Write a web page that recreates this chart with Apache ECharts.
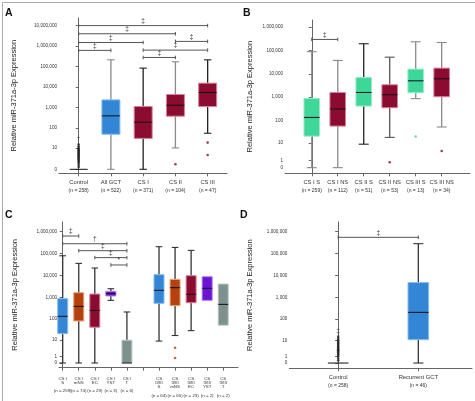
<!DOCTYPE html>
<html><head><meta charset="utf-8">
<script src="https://cdn.jsdelivr.net/npm/echarts@6/dist/echarts.min.js"></script>
<style>html,body{margin:0;padding:0;background:#fff}#c{width:475px;height:401px}</style>
</head><body><div id="c"></div><script>
// ---------- DATA ----------
// box rows: [lower whisker, Q1, median, Q3, upper whisker]
const catsA = ['Control', 'All GCT', 'CS I', 'CS II', 'CS III'];
const nA = [258, 522, 371, 104, 47];
const boxA = [[0,0,0,0,0],[0,50,400,2400,215000],[0,31,195,1140,85000],[10,385,1320,4400,172000],[56,1140,5500,15700,215000]];
const outA_control = [0.3,0.6,1,1.3,1.6,2,2.4,2.8,3.3,3.8,4.4,5,5.8,6.6,7.5,8.5,10,12,15];
const outA = [[3,[0.75]],[4,[19,4]]];
const brkA = [[0,4,10000000],[0,3,4000000],[0,2,1500000],[0,1,620000],[3,4,1700000],[2,4,640000],[2,3,280000]];
const brkSymA = ['‡','‡','‡','‡','‡','‡','‡'];

const catsB = ['CS I S','CS I NS','CS II S','CS II NS','CS III S','CS III NS'];
const nB = [259, 112, 51, 53, 13, 34];
const boxB = [[0,21,137,890,87000],[0,58,315,1600,37000],[9,420,1600,6950,190000],[18.5,355,1280,3400,51000],[870,1550,5000,15800,230000],[53,1050,6100,17400,215000]];
const outB = [[3,[0.69]],[4,[20]],[5,[4.1]]];
const brkB = [[0,1,290000]];
const brkSymB = ['‡'];

const catsC = [['CS I','S'],['CS I','mNS'],['CS I','EC'],['CS I','YST'],['CS I','T'],null,['CS','II/III','S'],['CS','II/III','mNS'],['CS','II/III','EC'],['CS','II/III','YST'],['CS','II/III','T']];
const nC = [259, 74, 29, 3, 6, null, 64, 60, 23, 2, 2];
const boxC = [[0,21,134,870,79000],[0,82,385,1620,35500],[0,42,252,1410,21800],[725,1150,1470,1880,2470],[0,0,0,10,213],null,[9,530,2090,10800,205000],[17,415,2750,6600,190000],[29,565,1370,9700,139000],[725,725,2570,8700,8700],[52,52,475,4050,4050]];
const outC = [[7,[4,0.7]]];
const brkC = [[0,1,630000],[0,4,280000],[1,4,135000],[2,4,65000],[3,4,30000]];
const brkSymC = ['‡','†','‡','‡','*'];

const catsD = ['Control','Recurrent GCT'];
const nD = [258, 46];
const boxD = [[0,0,0,0,0],[0,10.7,205,4700,282000]];
const outD_control = [0.3,0.6,1,1.3,1.6,2,2.4,2.8,3.3,3.8,4.4,5,5.8,6.6,7.5,8.5,10,12,15];
const brkD = [[0,1,550000]];
const brkSymD = ['‡'];

const ticksA = [0,10,100,1000,10000,100000,1000000,10000000];
const ticksBCD = [0,1,10,100,1000,10000,100000,1000000];

// ---------- STYLE ----------
const BLUE=['#3385d6','#86bbec'], RED=['#8c0b30','#d9819b'], GREEN=['#3ed699','#98ecc8'],
      ORANGE=['#b5420e','#eba17a'], PURPLE=['#6b13d3','#ad7ff0'], GRAY=['#7d918f','#bfcac8'];
const FONT = "'Liberation Sans', Arial, sans-serif";
const L = v => Math.log10(v + 1);

const panels = [
  {cats: catsA, box: boxA, colors:[RED,BLUE,RED,RED,RED], whisk:['#333','#8a8a8a','#222','#8a8a8a','#222'],
   grid:{left:59, top:18, width:168, height:155.3}, x:[-0.61,4.6], y:[-0.195,7.37], ticks: ticksA,
   hw:9, cw:3.7, brk: brkA, sym: brkSymA, nameGap: 41, lm:5},
  {cats: catsB, box: boxB, colors:[GREEN,RED,GREEN,RED,GREEN,RED], whisk:['#8a8a8a','#8a8a8a','#222','#555','#8a8a8a','#8a8a8a'],
   grid:{left:285, top:20, width:185, height:153.3}, x:[-1.03,6.09], y:[-0.24,6.29], ticks: ticksBCD,
   hw:7.8, cw:5, brk: brkB, sym: brkSymB, nameGap: 31, lm:5},
  {cats: catsC, box: boxC, colors:[BLUE,ORANGE,RED,PURPLE,GRAY,null,BLUE,ORANGE,RED,PURPLE,GRAY], whisk:Array(11).fill('#333'),
   grid:{left:59, top:222, width:179, height:145.7}, x:[-0.23,10.92], y:[-0.215,6.44], ticks: ticksBCD,
   hw:5, cw:3.3, brk: brkC, sym: brkSymC, nameGap: 40, lm:8.5, split:true},
  {cats: catsD, box: boxD, colors:[RED,BLUE], whisk:['#333','#333'],
   grid:{left:289.3, top:222, width:182.7, height:146.3}, x:[-0.61,1.67], y:[-0.24,6.44], ticks: ticksBCD,
   hw:10.3, cw:5, brk: brkD, sym: brkSymD, nameGap: 35, lm:5}
];

function xLabel(pi, i) {
  if (pi === 0) return `{a|${catsA[i]}}\n{b|(n = ${nA[i]})}`;
  if (pi === 1) return `{a|${catsB[i]}}\n{b|(n = ${nB[i]})}`;
  if (pi === 2) { const c = catsC[i]; if (!c) return ''; return c.map(s => `{c|${s}}`).join('\n') + `\n{c| }\n{c|(n = ${nC[i]})}`; }
  return `{a|${catsD[i]}}\n{b|(n = ${nD[i]})}`;
}
const RICH = {a:{fontSize:5.8, lineHeight:8.5, color:'#333', fontFamily:FONT},
              b:{fontSize:5, lineHeight:8.5, color:'#333', fontFamily:FONT},
              c:{fontSize:4.4, lineHeight:4.3, color:'#333', fontFamily:FONT}};

const grids=[], xAxes=[], yAxes=[], series=[], extraX=[];
panels.forEach((p, pi) => {
  grids.push(p.grid);
  const idx = p.cats.map((_, i) => i).filter(i => p.cats[i]);
  const allIdx = p.cats.map((_, i) => i);
  const labIdx = p.split ? idx.filter(i => i % 2 === 0) : idx;
  xAxes.push({type:'value', gridIndex:pi, position:'bottom', min:p.x[0], max:p.x[1],
    axisLine:{show:true, onZero:false, lineStyle:{color:'#666', width:1}},
    axisTick:{show:true, customValues: allIdx, length:3, lineStyle:{color:'#666'}},
    splitLine:{show:false},
    axisLabel:{customValues: labIdx, margin: p.lm, hideOverlap:false, showMinLabel:true, showMaxLabel:true,
      formatter: v => xLabel(pi, Math.round(v)), rich: RICH}
  });
  if (p.split) {
    extraX.push({type:'value', gridIndex:pi, position:'bottom', offset:0, min:p.x[0], max:p.x[1],
      axisLine:{show:false, onZero:false}, axisTick:{show:false}, splitLine:{show:false},
      axisLabel:{customValues: idx.filter(i => i % 2 === 1), margin: p.lm, hideOverlap:false, showMinLabel:true, showMaxLabel:true,
        formatter: v => xLabel(pi, Math.round(v)), rich: RICH}
    });
  }
  const tv = p.ticks.map(L);
  yAxes.push({type:'value', gridIndex:pi, min:p.y[0], max:p.y[1],
    name:'Relative miR-371a-3p Expression', nameLocation:'middle', nameGap:p.nameGap,
    nameTextStyle:{fontSize:7.5, color:'#222', fontFamily:FONT},
    axisLine:{show:true, lineStyle:{color:'#666', width:1}},
    axisTick:{show:true, customValues: tv, length:3, lineStyle:{color:'#666'}},
    splitLine:{show:false},
    axisLabel:{customValues: tv, margin:2, fontSize:4.6, color:'#333', fontFamily:FONT, hideOverlap:false, showMinLabel:true, showMaxLabel:true,
      formatter: v => { const t = p.ticks.find(t => Math.abs(L(t) - v) < 1e-6); return t === undefined ? '' : t.toLocaleString('en-US'); }}
  });
  // boxes
  const data = [];
  p.box.forEach((b, i) => { if (b) data.push([i, ...b.map(L)]); });
  series.push({type:'custom', xAxisIndex:pi, yAxisIndex:pi, coordinateSystem:'cartesian2d', clip:false, silent:true,
    data, renderItem: (params, api) => {
      const i = api.value(0);
      const c = k => api.coord([i, api.value(k)]);
      const lo=c(1), q1=c(2), md=c(3), q3=c(4), hi=c(5);
      const x = lo[0], wc = p.whisk[i], col = p.colors[i];
      const ch = [];
      if (hi[1] < q3[1] - 0.5) {
        ch.push({type:'line', shape:{x1:x,y1:hi[1],x2:x,y2:q3[1]}, style:{stroke:wc, lineWidth:1.3}});
        ch.push({type:'line', shape:{x1:x-p.cw,y1:hi[1],x2:x+p.cw,y2:hi[1]}, style:{stroke:wc, lineWidth:1.1}});
      }
      if (lo[1] > q1[1] + 0.5) {
        ch.push({type:'line', shape:{x1:x,y1:q1[1],x2:x,y2:lo[1]}, style:{stroke:wc, lineWidth:1.3}});
        ch.push({type:'line', shape:{x1:x-p.cw,y1:lo[1],x2:x+p.cw,y2:lo[1]}, style:{stroke:wc, lineWidth:1.1}});
      }
      if (q1[1] - q3[1] > 0.5)
        ch.push({type:'rect', shape:{x:x-p.hw, y:q3[1], width:2*p.hw, height:q1[1]-q3[1]}, style:{fill:col[0], stroke:col[1], lineWidth:1}});
      ch.push({type:'line', shape:{x1:x-p.hw,y1:md[1],x2:x+p.hw,y2:md[1]}, style:{stroke:'#111', lineWidth:1}});
      return {type:'group', children:ch};
    }});
  // brackets
  series.push({type:'custom', xAxisIndex:pi, yAxisIndex:pi, coordinateSystem:'cartesian2d', clip:false, silent:true,
    data: p.brk.map(b => [b[0], b[1], L(b[2])]),
    renderItem: (params, api) => {
      const a = api.coord([api.value(0), api.value(2)]), b = api.coord([api.value(1), api.value(2)]);
      const y = a[1];
      return {type:'group', children:[
        {type:'line', shape:{x1:a[0],y1:y,x2:b[0],y2:y}, style:{stroke:'#555', lineWidth:1}},
        {type:'line', shape:{x1:a[0],y1:y-1.8,x2:a[0],y2:y+1.8}, style:{stroke:'#555', lineWidth:1}},
        {type:'line', shape:{x1:b[0],y1:y-1.8,x2:b[0],y2:y+1.8}, style:{stroke:'#555', lineWidth:1}},
        {type:'text', style:{x:(a[0]+b[0])/2, y:y-1, text:p.sym[params.dataIndex], textAlign:'center', textVerticalAlign:'bottom', fontSize:6.5, fill:'#333', fontFamily:FONT}}
      ]};
    }});
});

// outliers
function outPts(list, colors) {
  const pts = [];
  list.forEach(([i, vals]) => vals.forEach(v => pts.push({value:[i, L(v)], itemStyle:{color: colors[i][0]}})));
  return pts;
}
const ctrlA = outA_control.map(v => ({value:[0, L(v)], itemStyle:{color:'#222'}}));
const ctrlD = outD_control.map(v => ({value:[0, L(v)], itemStyle:{color:'#222'}}));
series.push({type:'scatter', xAxisIndex:0, yAxisIndex:0, symbolSize:2.6, silent:true, data: ctrlA.concat(outPts(outA, panels[0].colors))});
series.push({type:'scatter', xAxisIndex:1, yAxisIndex:1, symbolSize:2.6, silent:true, data: outPts(outB, panels[1].colors)});
series.push({type:'scatter', xAxisIndex:2, yAxisIndex:2, symbolSize:2.6, silent:true, data: outPts(outC, panels[2].colors)});
series.push({type:'scatter', xAxisIndex:3, yAxisIndex:3, symbolSize:2.6, silent:true, data: ctrlD});
// symbols above control outliers
series.push({type:'scatter', xAxisIndex:0, yAxisIndex:0, symbolSize:0, silent:true, data:[[0, L(15)]],
  label:{show:true, formatter:'†', position:'top', distance:2, fontSize:6.5, color:'#333', fontFamily:FONT}});
series.push({type:'scatter', xAxisIndex:3, yAxisIndex:3, symbolSize:0, silent:true, data:[[0, L(15)]],
  label:{show:true, formatter:'‡', position:'top', distance:2, fontSize:6.5, color:'#333', fontFamily:FONT}});

const letters = [['A',5,8],['B',243,8],['C',5,210],['D',240,210]].map(([t,x,y]) => ({type:'text', left:x, top:y,
  style:{text:t, fontSize:10.5, fontWeight:'bold', fill:'#111', fontFamily:FONT}}));

const chart = echarts.init(document.getElementById('c'), null, {renderer:'canvas'});
chart.setOption({
  animation:false, backgroundColor:'#fff',
  grid: grids, xAxis: xAxes.concat(extraX), yAxis: yAxes, series,
  graphic: [{type:'rect', left:0, top:0, shape:{x:0.5,y:0.5,width:474,height:400}, style:{fill:'none', stroke:'#aaa', lineWidth:1}}].concat(letters)
});
</script></body></html>
